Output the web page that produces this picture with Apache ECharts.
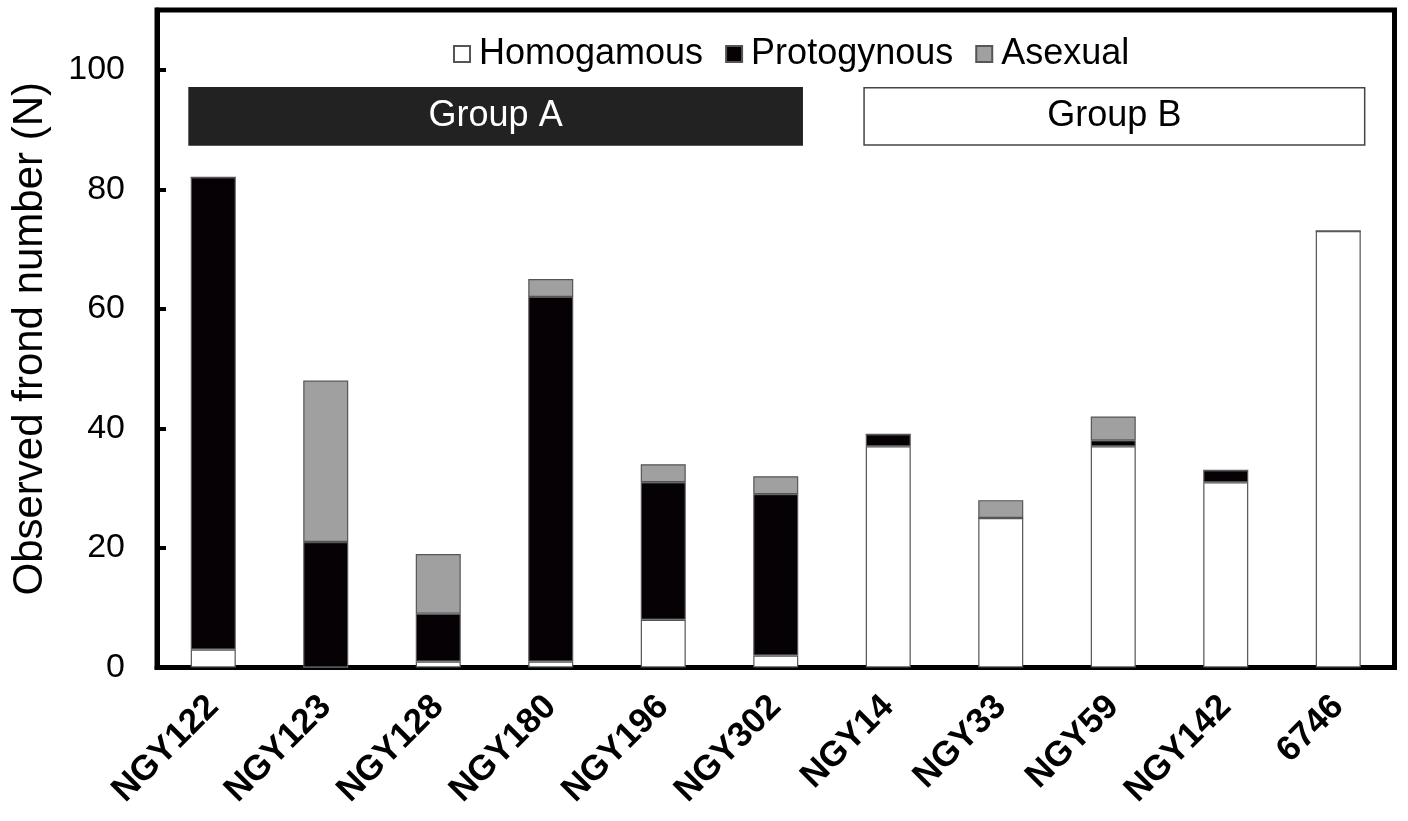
<!DOCTYPE html>
<html>
<head>
<meta charset="utf-8">
<script src="https://cdn.jsdelivr.net/npm/echarts@6/dist/echarts.min.js"></script>
<style>
  html, body { margin: 0; padding: 0; background: #ffffff; }
  #chart { width: 1408px; height: 821px; }
</style>
</head>
<body>
<div id="chart"></div>
<script>
// Strains and frond counts by flowering type
const strains = ['NGY122', 'NGY123', 'NGY128', 'NGY180', 'NGY196', 'NGY302', 'NGY14', 'NGY33', 'NGY59', 'NGY142', '6746'];
const homogamous  = [3, 0, 1, 1, 8, 2, 37, 25, 37, 31, 73];
const protogynous = [79, 21, 8, 61, 23, 27, 2, 0, 1, 2, 0];
const asexual     = [0, 27, 10, 3, 3, 3, 0, 3, 4, 0, 0];

// Strain groups (first and last strain index of each group)
const groupNames = ['Group A', 'Group B'];
const groupFirst = [0, 6];
const groupLast  = [5, 10];

const yTicks = [0, 20, 40, 60, 80, 100];

const FONT = '"Liberation Sans", Arial, Helvetica, sans-serif';
const barBorder = { borderColor: '#555555', borderWidth: 1.2 };

const chart = echarts.init(document.getElementById('chart'), null, { renderer: 'canvas' });

// Labelled band spanning a run of strains, drawn above the bars
function groupBand(params, api) {
  const first = api.value(0);
  const last = api.value(1);
  const band = api.size([1, 0])[0];
  const x0 = api.coord([first, 0])[0] - band * 0.215;
  const x1 = api.coord([last, 0])[0] + band * 0.235;
  const yTop = api.coord([0, 97])[1];
  const yBot = api.coord([0, 87.4])[1];
  const dark = params.dataIndex === 0;
  return {
    type: 'group',
    children: [
      {
        type: 'rect',
        shape: { x: x0, y: yTop, width: x1 - x0, height: yBot - yTop },
        style: { fill: dark ? '#222222' : '#ffffff', stroke: dark ? '#222222' : '#444444', lineWidth: 1.5 }
      },
      {
        type: 'text',
        x: (x0 + x1) / 2,
        y: (yTop + yBot) / 2,
        style: {
          text: groupNames[params.dataIndex],
          fill: dark ? '#ffffff' : '#000000',
          font: '36px ' + FONT,
          align: 'center',
          verticalAlign: 'middle'
        }
      }
    ]
  };
}

const option = {
  backgroundColor: '#ffffff',
  animation: false,
  textStyle: { fontFamily: FONT, color: '#000000' },
  grid: {
    left: 157, right: 13.5, top: 10, bottom: 153.5,
    show: true, borderColor: '#000000', borderWidth: 5, backgroundColor: 'transparent',
    containLabel: false
  },
  legend: {
    data: ['Homogamous', 'Protogynous', 'Asexual'],
    left: 448, top: 31,
    icon: 'rect',
    itemWidth: 16, itemHeight: 16, itemGap: 22,
    textStyle: { fontSize: 36, color: '#000000', fontFamily: FONT, padding: [0, 0, 0, 4] }
  },
  xAxis: {
    type: 'category',
    data: strains,
    axisLine: { show: true, lineStyle: { color: '#000000', width: 5 } },
    axisTick: { show: false },
    axisLabel: {
      rotate: 45, fontSize: 35, fontWeight: 'bold', color: '#000000', margin: 34,
      interval: 0, fontFamily: FONT
    }
  },
  yAxis: {
    type: 'value',
    min: 0, max: 110, interval: 20,
    name: 'Observed frond number (N)',
    nameLocation: 'middle',
    nameGap: 106,
    nameTextStyle: { fontSize: 42, color: '#000000', fontFamily: FONT },
    axisLine: { show: true, lineStyle: { color: '#000000', width: 5 } },
    axisTick: { show: true, inside: true, length: 9, lineStyle: { color: '#000000', width: 4 }, customValues: yTicks },
    axisLabel: { fontSize: 34, color: '#000000', margin: 32, customValues: yTicks, fontFamily: FONT },
    splitLine: { show: false }
  },
  series: [
    {
      name: 'Homogamous', type: 'bar', stack: 'fronds', barWidth: 45,
      itemStyle: Object.assign({ color: '#ffffff' }, barBorder),
      data: homogamous
    },
    {
      name: 'Protogynous', type: 'bar', stack: 'fronds', barWidth: 45,
      itemStyle: Object.assign({ color: '#050105' }, barBorder),
      data: protogynous
    },
    {
      name: 'Asexual', type: 'bar', stack: 'fronds', barWidth: 45,
      itemStyle: Object.assign({ color: '#a0a0a0' }, barBorder),
      data: asexual
    },
    {
      name: 'groups', type: 'custom', silent: true, clip: false,
      renderItem: groupBand,
      encode: { x: [0, 1] },
      data: groupFirst.map((f, i) => [f, groupLast[i]]),
      z: 5
    }
  ]
};

chart.setOption(option);
</script>
</body>
</html>
